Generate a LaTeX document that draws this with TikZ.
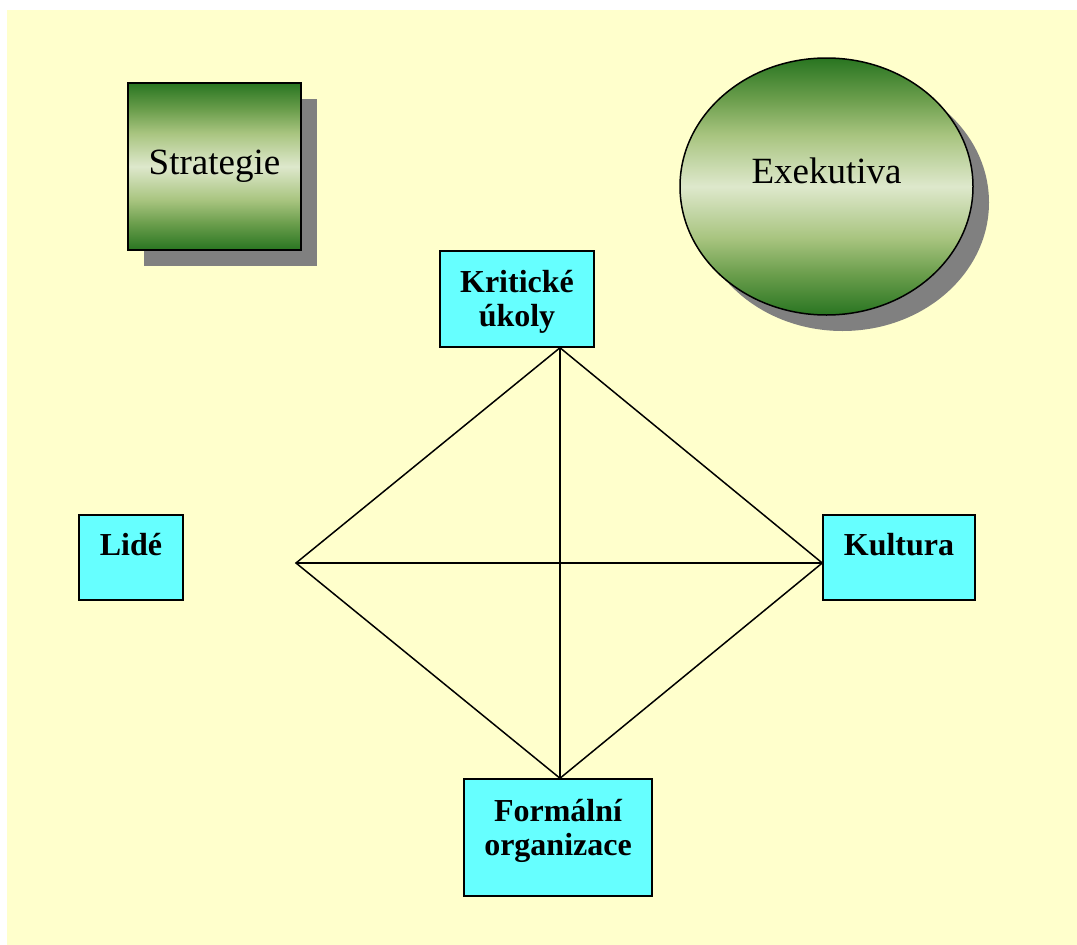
\documentclass[tikz,border=0pt]{standalone}
\usepackage{fontspec}
\setmainfont{Liberation Serif}
\usetikzlibrary{shapes.geometric,shadows}
\definecolor{paper}{RGB}{255,255,204}
\definecolor{aqua}{RGB}{102,255,255}
\definecolor{shadowgray}{RGB}{128,128,128}
% dark green at the rims, pale band through the middle
\pgfdeclareverticalshading{greenband}{100bp}{%
  rgb(0bp)=(0.16,0.46,0.13);
  rgb(25bp)=(0.16,0.46,0.13);
  rgb(33bp)=(0.42,0.62,0.30);
  rgb(40bp)=(0.66,0.77,0.50);
  rgb(50bp)=(0.87,0.91,0.80);
  rgb(60bp)=(0.66,0.77,0.50);
  rgb(67bp)=(0.42,0.62,0.30);
  rgb(75bp)=(0.16,0.46,0.13);
  rgb(100bp)=(0.16,0.46,0.13)}
\begin{document}
\begin{tikzpicture}[x=1pt,y=-1pt,
  factor/.style={draw=black, line width=1.5pt, fill=aqua, inner sep=0pt,
    font=\fontsize{32}{34}\selectfont\bfseries, align=center},
  lead/.style={draw=black, line width=1.5pt, shade, shading=greenband, inner sep=0pt,
    font=\fontsize{37}{40}\selectfont,
    drop shadow={shadow xshift=16pt, shadow yshift=-16pt, fill=shadowgray, opacity=1}},
  link/.style={draw=black, line width=1.5pt}]
% page and backdrop
\fill[white] (0,0) rectangle (1077,945);
\fill[paper] (7,10) rectangle (1077,945);
\useasboundingbox (0,0) rectangle (1077,945);

% leading elements
\node[lead, rectangle, minimum width=173pt, minimum height=167pt] (st) at (214.5,166.5) {Strategie};
\node[lead, ellipse, minimum width=293pt, minimum height=257pt,
      text height=25pt, text depth=32pt] (ex) at (826.5,186.5) {Exekutiva};

% the four factors
\node[factor, minimum width=154pt, minimum height=96pt, text depth=2pt] (kr) at (517,299) {Kritické\\úkoly};
\node[factor, minimum width=104pt, minimum height=85pt, text height=22pt, text depth=27pt] (li) at (131,557.5) {Lidé};
\node[factor, minimum width=152pt, minimum height=85pt, text height=22pt, text depth=27pt] (ku) at (899,557.5) {Kultura};
\node[factor, minimum width=188pt, minimum height=117pt, text depth=20pt] (fo) at (558,837.5) {Formální\\organizace};

% corners of the diamond
\coordinate (apex) at ([xshift=43pt]kr.south);
\coordinate (foot) at ([xshift=2pt]fo.north);
\coordinate (west) at (296,563);
\coordinate (east) at (ku.west |- west);

\draw[link] (apex) -- (west) -- (foot) -- (east) -- cycle;
\draw[link] (apex) -- (foot);
\draw[link] (west) -- (east);
\end{tikzpicture}
\end{document}
